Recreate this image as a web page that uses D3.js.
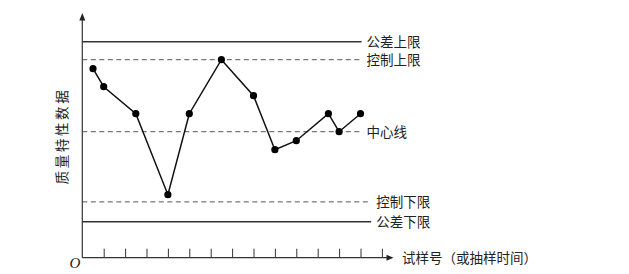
<!DOCTYPE html>
<html><head><meta charset="utf-8">
<script src="https://cdn.jsdelivr.net/npm/d3@7"></script>
<style>body{margin:0;background:#fff}svg{display:block}text{font-family:"Liberation Sans","Noto Sans CJK SC",sans-serif;fill:#222}</style>
</head><body>
<svg id="c" width="629" height="274"></svg>
<script>
const samples = [0.5, 1, 2.5, 4, 5, 6.5, 8, 9, 10, 11.5, 12, 13];
const values = [13.5, 12.5, 11, 6.5, 11, 14, 12, 9, 9.5, 11, 10, 11];
const tickPositions = [1,2,3,4,5,6,7,8,9,10,11,12,13,14];
const limitNames = ["公差上限", "控制上限", "中心线", "控制下限", "公差下限"];
const limitValues = [15, 14, 10, 6.1, 5];
const limitKinds = ["solid", "dashed", "dashed", "dashed", "solid"];
const limitEnds = [13.05, 13.05, 13.05, 13.5, 13.5];
const xTitle = "试样号（或抽样时间）";
const yTitle = "质量特性数据";

const svg = d3.select("#c");
const x = d3.scaleLinear().domain([0, 1]).range([82.3, 103.7]);
const y = d3.scaleLinear().domain([3, 4]).range([257.7, 239.7]);

// limit lines
limitValues.forEach((v, i) => {
  svg.append("line")
    .attr("x1", x(0)).attr("x2", x(limitEnds[i]))
    .attr("y1", y(v)).attr("y2", y(v))
    .attr("stroke", limitKinds[i] === "solid" ? "#333" : "#555")
    .attr("stroke-width", limitKinds[i] === "solid" ? 1.6 : 1)
    .attr("stroke-dasharray", limitKinds[i] === "solid" ? null : "5,3.5");
  svg.append("text")
    .attr("x", x(limitEnds[i]) + 5).attr("y", y(v))
    .attr("dy", "0.36em").attr("font-size", 13.5)
    .text(limitNames[i]);
});

// axes
const xAxis = d3.axisTop(x).tickValues(tickPositions).tickSize(9).tickFormat("");
const gx = svg.append("g").attr("transform", `translate(0,${y(3)})`).call(xAxis);
gx.select(".domain").remove();
gx.selectAll("line").attr("stroke", "#333");
svg.append("line").attr("x1", x(0)).attr("x2", 388).attr("y1", y(3)).attr("y2", y(3)).attr("stroke", "#333").attr("stroke-width", 1.2);
svg.append("path").attr("d", `M393.5,${y(3)} L386.5,${y(3)-3} L386.5,${y(3)+3} Z`).attr("fill", "#222");
svg.append("line").attr("x1", x(0)).attr("x2", x(0)).attr("y1", y(3)).attr("y2", 18).attr("stroke", "#333").attr("stroke-width", 1.2);
svg.append("path").attr("d", `M${x(0)},13 L${x(0)-3},20.5 L${x(0)+3},20.5 Z`).attr("fill", "#222");

svg.append("text").attr("x", 75).attr("y", 263).attr("dy", "0.36em")
  .attr("text-anchor", "middle").attr("font-size", 15).attr("font-style", "italic")
  .style("font-family", "'Liberation Serif','DejaVu Serif',serif").text("O");

svg.append("text").attr("x", 402).attr("y", y(3)).attr("dy", "0.36em")
  .attr("font-size", 13.5).text(xTitle);

svg.append("text").attr("transform", "translate(62,136) rotate(-90)")
  .attr("text-anchor", "middle").attr("dy", "0.36em")
  .attr("font-size", 13.5).attr("letter-spacing", 2.6).text(yTitle);

// data line
const pts = samples.map((s, i) => [s, values[i]]);
svg.append("path").datum(pts)
  .attr("d", d3.line().x(d => x(d[0])).y(d => y(d[1])))
  .attr("fill", "none").attr("stroke", "#111").attr("stroke-width", 1.5);
svg.selectAll("circle.p").data(pts).enter().append("circle")
  .attr("cx", d => x(d[0])).attr("cy", d => y(d[1])).attr("r", 3.6).attr("fill", "#000");
</script>
</body></html>
